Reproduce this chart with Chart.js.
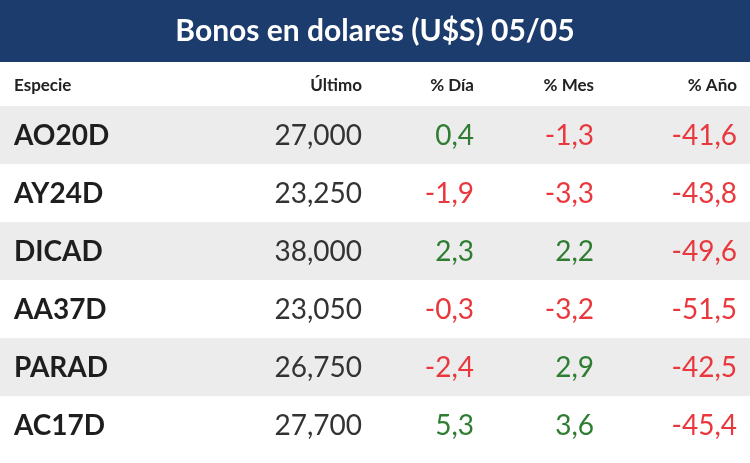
<!DOCTYPE html>
<html>
<head>
<meta charset="utf-8">
<script src="https://cdn.jsdelivr.net/npm/chart.js@4/dist/chart.umd.min.js"></script>
<style>
  body { margin: 0; background: #fff; }
  #wrap { width: 750px; height: 463px; }
</style>
</head>
<body>
<div id="wrap"><canvas id="tabla"></canvas></div>
<script>
const title = "Bonos en dolares (U$S) 05/05";
const headers = ["Especie", "Último", "% Día", "% Mes", "% Año"];
const especies = ["AO20D", "AY24D", "DICAD", "AA37D", "PARAD", "AC17D"];
const ultimo = ["27,000", "23,250", "38,000", "23,050", "26,750", "27,700"];
const diaPct = [0.4, -1.9, 2.3, -0.3, -2.4, 5.3];
const mesPct = [-1.3, -3.3, 2.2, -3.2, 2.9, 3.6];
const anioPct = [-41.6, -43.8, -49.6, -51.5, -42.5, -45.4];

// column anchors (pixels) and alignment
const colX = [14, 362, 474, 594, 737];
const colAlign = ["left", "right", "right", "right", "right"];

const fmt = v => v.toFixed(1).replace(".", ",");
const pctColor = v => (v < 0 ? "#e8383d" : "#2e7d32");

const tablePlugin = {
  id: "tabla",
  beforeDatasetsDraw(chart) {
    const c = chart.ctx, y = chart.scales.y;
    // title band
    c.save();
    c.fillStyle = "#1b3c6c";
    c.fillRect(0, 0, 750, 62);
    c.fillStyle = "#ffffff";
    c.font = "bold 30px Lato";
    c.textAlign = "center";
    c.textBaseline = "middle";
    c.fillText(title, 375, 31);
    // row backgrounds
    especies.forEach((_, i) => {
      if (i % 2 === 0) {
        const top = y.getPixelForValue(i - 0.5);
        const bot = y.getPixelForValue(i + 0.5);
        c.fillStyle = "#ececec";
        c.fillRect(0, top, 750, bot - top);
      }
    });
    // header
    c.fillStyle = "#222";
    c.font = "bold 17px Lato";
    headers.forEach((h, j) => {
      c.textAlign = colAlign[j];
      c.fillText(h, colX[j], y.getPixelForValue(-0.86));
    });
    // rows
    especies.forEach((e, i) => {
      const py = y.getPixelForValue(i) + 1;
      const cells = [e, ultimo[i], fmt(diaPct[i]), fmt(mesPct[i]), fmt(anioPct[i])];
      const colors = ["#1e1e1e", "#333", pctColor(diaPct[i]), pctColor(mesPct[i]), pctColor(anioPct[i])];
      cells.forEach((t, j) => {
        c.font = (j === 0 ? "bold " : "") + "28px Lato";
        c.fillStyle = colors[j];
        c.textAlign = colAlign[j];
        c.fillText(t, colX[j], py);
      });
    });
    c.restore();
  }
};

new Chart(document.getElementById("tabla"), {
  type: "scatter",
  data: {
    datasets: [{
      data: especies.map((_, i) => ({ x: 0, y: i })),
      pointRadius: 0
    }]
  },
  options: {
    responsive: true,
    maintainAspectRatio: false,
    animation: false,
    layout: { padding: { top: 62, bottom: 10, left: 0, right: 0 } },
    plugins: { legend: { display: false }, tooltip: { enabled: false } },
    scales: {
      x: { display: false, min: 0, max: 1 },
      y: { display: false, reverse: true, min: -1.26, max: 5.48 }
    }
  },
  plugins: [tablePlugin]
});
</script>
</body>
</html>
